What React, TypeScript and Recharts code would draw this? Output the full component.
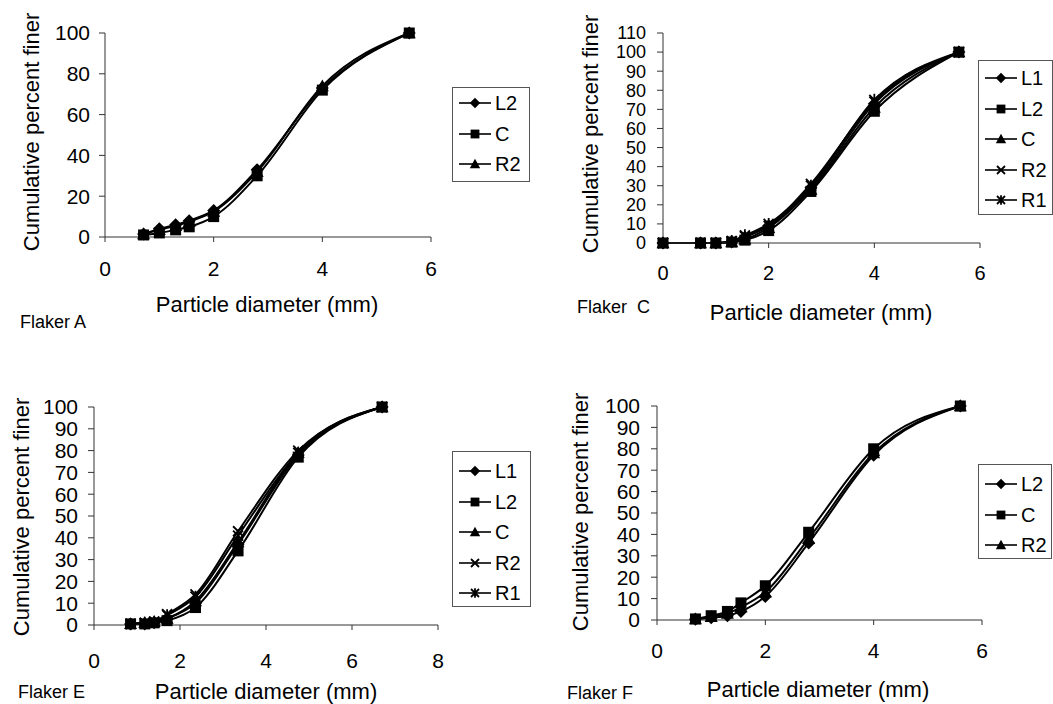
import React from 'react';
import { LineChart, Line, XAxis, YAxis } from 'recharts';

const FONT = '"Liberation Sans", Arial, Helvetica, sans-serif';

// sieve sizes (mm)
const sizesA = [0.71, 1.0, 1.3, 1.55, 2.0, 2.8, 4.0, 5.6];
const sizesC = [0, 0.71, 1.0, 1.3, 1.55, 2.0, 2.8, 4.0, 5.6];
const sizesE = [0.85, 1.18, 1.4, 1.7, 2.36, 3.35, 4.75, 6.7];
const sizesF = [0.71, 1.0, 1.3, 1.55, 2.0, 2.8, 4.0, 5.6];

// Flaker A
const aL2 = [1.5, 4, 6, 8, 13, 33, 73, 100];
const aC = [1, 2, 3.5, 5, 10, 30, 72, 100];
const aR2 = [1.5, 3.5, 5.5, 7.5, 12.5, 32, 74, 100];

// Flaker C
const cL1 = [0, 0, 0, 0.5, 3, 9, 29, 73, 100];
const cL2 = [0, 0, 0, 0.5, 1.5, 6.5, 27, 69, 100];
const cC = [0, 0, 0, 0.5, 2, 8, 28, 71, 100];
const cR2 = [0, 0, 0, 1, 3.5, 9, 31, 74, 100];
const cR1 = [0, 0, 0, 1, 4, 10, 30, 75, 100];

// Flaker E
const eL1 = [0.5, 0.5, 1, 3, 10, 37, 78, 100];
const eL2 = [0.5, 0.5, 1, 2, 8, 34, 77, 100];
const eC = [0.5, 1, 1.5, 3, 11, 38, 79, 100];
const eR2 = [0.5, 1, 1.5, 5, 14, 43, 80, 100];
const eR1 = [0.5, 1, 1.5, 4.5, 13, 41, 79, 100];

// Flaker F
const fL2 = [0.3, 1, 2, 4, 11, 36, 77, 100];
const fC = [0.5, 2, 4, 8, 16, 41, 80, 100];
const fR2 = [0.5, 1.5, 3, 6, 13, 38, 78, 100];

type Shape = 'diamond' | 'square' | 'triangle' | 'x' | 'star';

interface Series {
  name: string;
  shape: Shape;
  values: number[];
}

const Marker = ({ shape, cx, cy, s = 1 }: { shape: Shape; cx: number; cy: number; s?: number }) => {
  if (cx == null || cy == null) return null;
  switch (shape) {
    case 'diamond': {
      const r = 6.5 * s;
      return <polygon points={`${cx},${cy - r} ${cx + r},${cy} ${cx},${cy + r} ${cx - r},${cy}`} fill="#000" />;
    }
    case 'square': {
      const h = 5.5 * s;
      return <rect x={cx - h} y={cy - h} width={2 * h} height={2 * h} fill="#000" />;
    }
    case 'triangle': {
      const r = 6.5 * s;
      return <polygon points={`${cx},${cy - r} ${cx + r},${cy + r * 0.8} ${cx - r},${cy + r * 0.8}`} fill="#000" />;
    }
    case 'x': {
      const r = 5 * s;
      return (
        <path
          d={`M${cx - r},${cy - r}L${cx + r},${cy + r}M${cx + r},${cy - r}L${cx - r},${cy + r}`}
          stroke="#000"
          strokeWidth={1.8}
        />
      );
    }
    case 'star': {
      const r = 5 * s;
      return (
        <path
          d={`M${cx - r},${cy - r}L${cx + r},${cy + r}M${cx + r},${cy - r}L${cx - r},${cy + r}M${cx},${cy - r * 1.2}L${cx},${cy + r * 1.2}`}
          stroke="#000"
          strokeWidth={1.8}
        />
      );
    }
  }
  return null;
};

interface PanelProps {
  left: number;
  top: number;
  width: number;
  height: number;
  margin: { top: number; right: number; bottom: number; left: number };
  sizes: number[];
  series: Series[];
  xDomain: [number, number];
  xTicks: number[];
  yDomain: [number, number];
  yTicks: number[];
  tickFont: number;
  yTickFont?: number;
  xTickMargin: number;
  yTickMargin: number;
}

const Panel: React.FC<PanelProps> = ({
  left, top, width, height, margin, sizes, series,
  xDomain, xTicks, yDomain, yTicks, tickFont, yTickFont, xTickMargin, yTickMargin
}) => {
  const data = sizes.map((d, i) => {
    const row: any = { d };
    series.forEach(s => { row[s.name] = s.values[i]; });
    return row;
  });
  // squares on top, like the original
  const drawOrder = [...series].sort((a, b) => (a.shape === 'square' ? 1 : 0) - (b.shape === 'square' ? 1 : 0));

  return (
    <div style={{ position: 'absolute', left, top }}>
      <LineChart width={width} height={height} data={data} margin={margin}>
        <XAxis
          dataKey="d"
          type="number"
          domain={xDomain}
          ticks={xTicks}
          interval={0}
          height={40}
          stroke="#333"
          tickSize={5}
          tickMargin={xTickMargin}
          tick={{ fontSize: tickFont, fill: '#000', fontFamily: FONT }}
        />
        <YAxis
          type="number"
          domain={yDomain}
          ticks={yTicks}
          interval={0}
          width={60}
          stroke="#333"
          tickSize={6}
          tickMargin={yTickMargin}
          tick={{ fontSize: yTickFont ?? tickFont, fill: '#000', fontFamily: FONT }}
        />
        {drawOrder.map(s => (
          <Line
            key={s.name}
            type="monotone"
            dataKey={s.name}
            stroke="#000"
            strokeWidth={2}
            isAnimationActive={false}
            dot={(p: any) => <Marker key={`${s.name}-${p.index}`} shape={s.shape} cx={p.cx} cy={p.cy} />}
            activeDot={false}
          />
        ))}
      </LineChart>
    </div>
  );
};

const LegendBox = ({ left, top, width, height, padTop, items }: {
  left: number; top: number; width: number; height: number; padTop: number; items: Series[];
}) => (
  <div
    style={{
      position: 'absolute', left, top, width, height, boxSizing: 'border-box',
      border: '1px solid #555', background: '#fff', paddingTop: padTop, fontFamily: FONT
    }}
  >
    {items.map(s => (
      <div key={s.name} style={{ display: 'flex', alignItems: 'center', height: 30.5, paddingLeft: 6 }}>
        <svg width={32} height={16} style={{ display: 'block' }}>
          <line x1={0} y1={8} x2={32} y2={8} stroke="#000" strokeWidth={1.6} />
          <Marker shape={s.shape} cx={16} cy={8} s={0.8} />
        </svg>
        <span style={{ fontSize: 20, marginLeft: 4, color: '#000', lineHeight: '20px' }}>{s.name}</span>
      </div>
    ))}
  </div>
);

const seriesA: Series[] = [
  { name: 'L2', shape: 'diamond', values: aL2 },
  { name: 'C', shape: 'square', values: aC },
  { name: 'R2', shape: 'triangle', values: aR2 },
];
const seriesC: Series[] = [
  { name: 'L1', shape: 'diamond', values: cL1 },
  { name: 'L2', shape: 'square', values: cL2 },
  { name: 'C', shape: 'triangle', values: cC },
  { name: 'R2', shape: 'x', values: cR2 },
  { name: 'R1', shape: 'star', values: cR1 },
];
const seriesE: Series[] = [
  { name: 'L1', shape: 'diamond', values: eL1 },
  { name: 'L2', shape: 'square', values: eL2 },
  { name: 'C', shape: 'triangle', values: eC },
  { name: 'R2', shape: 'x', values: eR2 },
  { name: 'R1', shape: 'star', values: eR1 },
];
const seriesF: Series[] = [
  { name: 'L2', shape: 'diamond', values: fL2 },
  { name: 'C', shape: 'square', values: fC },
  { name: 'R2', shape: 'triangle', values: fR2 },
];

const yTitle = 'Cumulative percent finer';
const xTitle = 'Particle diameter (mm)';

export default function App() {
  const textStyle = { fontFamily: FONT, fill: '#000' };
  return (
    <div style={{ position: 'absolute', left: 0, top: 0, width: 1053, height: 704, background: '#fff' }}>
      <Panel
        left={0} top={0} width={441} height={287}
        margin={{ top: 33, right: 10, bottom: 10, left: 45 }}
        sizes={sizesA} series={seriesA}
        xDomain={[0, 6]} xTicks={[0, 2, 4, 6]}
        yDomain={[0, 100]} yTicks={[0, 20, 40, 60, 80, 100]}
        tickFont={21} xTickMargin={19} yTickMargin={9}
      />
      <Panel
        left={560} top={0} width={430} height={293}
        margin={{ top: 33, right: 10, bottom: 10, left: 43 }}
        sizes={sizesC} series={seriesC}
        xDomain={[0, 6]} xTicks={[0, 2, 4, 6]}
        yDomain={[0, 110]} yTicks={[0, 10, 20, 30, 40, 50, 60, 70, 80, 90, 100, 110]}
        tickFont={20} yTickFont={18} xTickMargin={18} yTickMargin={11}
      />
      <Panel
        left={0} top={370} width={448} height={305}
        margin={{ top: 37, right: 10, bottom: 10, left: 34 }}
        sizes={sizesE} series={seriesE}
        xDomain={[0, 8]} xTicks={[0, 2, 4, 6, 8]}
        yDomain={[0, 100]} yTicks={[0, 10, 20, 30, 40, 50, 60, 70, 80, 90, 100]}
        tickFont={21} xTickMargin={23} yTickMargin={10}
      />
      <Panel
        left={560} top={370} width={432} height={300}
        margin={{ top: 36, right: 10, bottom: 10, left: 37 }}
        sizes={sizesF} series={seriesF}
        xDomain={[0, 6]} xTicks={[0, 2, 4, 6]}
        yDomain={[0, 100]} yTicks={[0, 10, 20, 30, 40, 50, 60, 70, 80, 90, 100]}
        tickFont={21} xTickMargin={18} yTickMargin={11}
      />

      <LegendBox left={452} top={87} width={78} height={95} padTop={0} items={seriesA} />
      <LegendBox left={978} top={60} width={75} height={155} padTop={2} items={seriesC} />
      <LegendBox left={452} top={451} width={79} height={156} padTop={4} items={seriesE} />
      <LegendBox left={978} top={464} width={74} height={95} padTop={4} items={seriesF} />

      <svg width={1053} height={704} style={{ position: 'absolute', left: 0, top: 0, pointerEvents: 'none' }}>
        <text transform="translate(39,132) rotate(-90)" textAnchor="middle" fontSize={22} style={textStyle}>{yTitle}</text>
        <text transform="translate(598,134) rotate(-90)" textAnchor="middle" fontSize={22} style={textStyle}>{yTitle}</text>
        <text transform="translate(29,517) rotate(-90)" textAnchor="middle" fontSize={22} style={textStyle}>{yTitle}</text>
        <text transform="translate(588,512) rotate(-90)" textAnchor="middle" fontSize={22} style={textStyle}>{yTitle}</text>

        <text x={267} y={312} textAnchor="middle" fontSize={22} style={textStyle}>{xTitle}</text>
        <text x={821} y={320} textAnchor="middle" fontSize={22} style={textStyle}>{xTitle}</text>
        <text x={266} y={699} textAnchor="middle" fontSize={22} style={textStyle}>{xTitle}</text>
        <text x={818} y={697} textAnchor="middle" fontSize={22} style={textStyle}>{xTitle}</text>

        <text x={20} y={328} fontSize={18} style={textStyle}>Flaker A</text>
        <text x={577} y={313} fontSize={18} style={{ ...textStyle, whiteSpace: 'pre' }}>{'Flaker  C'}</text>
        <text x={18} y={698} fontSize={18} style={textStyle}>Flaker E</text>
        <text x={567} y={699} fontSize={18} style={textStyle}>Flaker F</text>
      </svg>
    </div>
  );
}
